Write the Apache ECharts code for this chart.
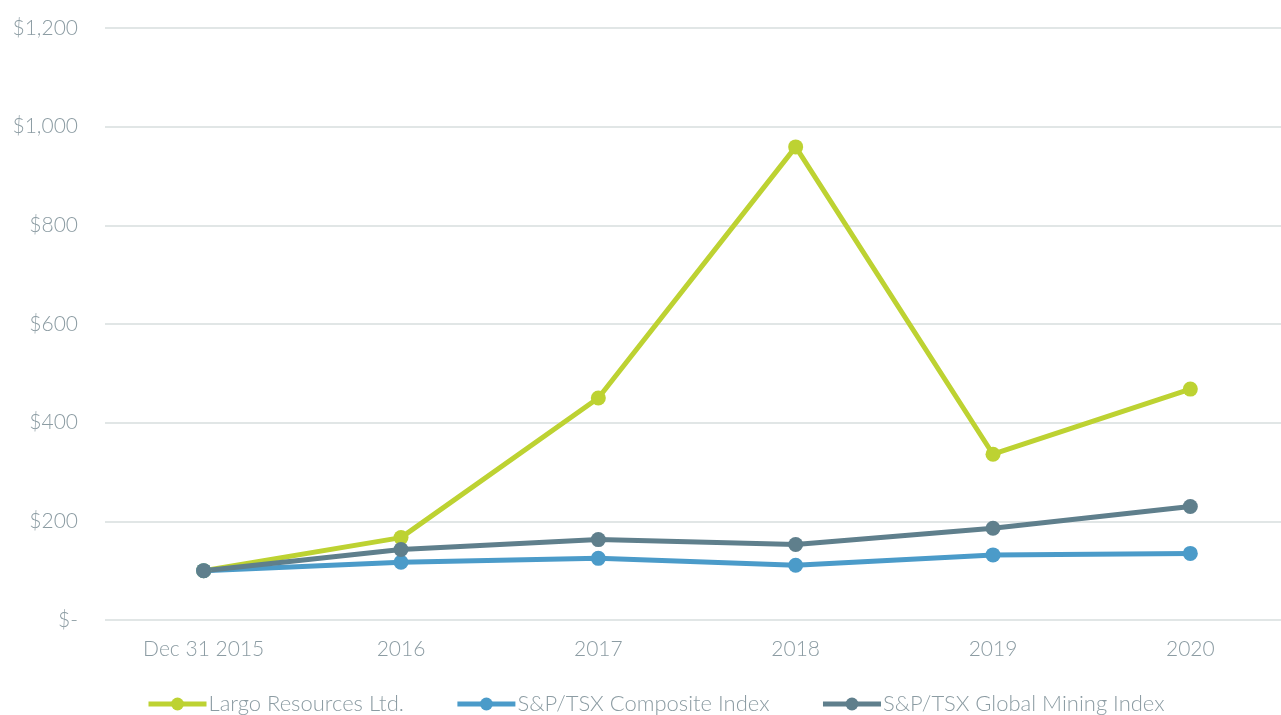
<!DOCTYPE html>
<html>
<head>
<meta charset="utf-8">
<script src="https://cdn.jsdelivr.net/npm/echarts@6/dist/echarts.min.js"></script>
<style>
	html, body { margin: 0; padding: 0; background: #fff; overflow: hidden; }
	#main { width: 1289px; height: 715px; }
</style>
</head>
<body>
<div id="main"></div>
<script>
	// 图表数据
	var categories = ['Dec 31 2015', '2016', '2017', '2018', '2019', '2020'];
	var largo = [100, 167, 450, 959, 336, 468];
	var composite = [100, 117, 125, 111, 132, 135];
	var mining = [100, 143, 163, 153, 186, 230];
	var seriesNames = ['Largo Resources Ltd.', 'S&P/TSX Composite Index', 'S&P/TSX Global Mining Index'];
	var colors = ['#BDD232', '#4B9BC9', '#5F7F8C'];

	var labelColor = '#8C9CA3';
	var fontFamily = 'Lato, "Open Sans", sans-serif';

	function lineSeries(name, data, color) {
		return {
			name: name,
			type: 'line',
			data: data,
			symbol: 'circle',
			symbolSize: 15,
			lineStyle: { width: 5, color: color },
			itemStyle: { color: color }
		};
	}

	var myChart = echarts.init(document.getElementById('main'));
	var option = {
		animation: false,
		textStyle: { fontFamily: fontFamily },
		legend: {
			bottom: 0,
			left: 146,
			padding: 0,
			itemWidth: 58,
			itemHeight: 16,
			itemGap: 51,
			lineStyle: { width: 5 },
			textStyle: { color: labelColor, fontSize: 22, fontWeight: 300, fontFamily: fontFamily, padding: [0, 0, 0, -3] },
			data: seriesNames
		},
		grid: {
			left: 105,
			right: 0,
			top: 28,
			bottom: 95
		},
		xAxis: {
			type: 'category',
			data: categories,
			axisLine: { show: false },
			axisTick: { show: false },
			axisLabel: { color: labelColor, fontSize: 21, fontWeight: 300, margin: 19 }
		},
		yAxis: {
			type: 'value',
			min: 0,
			max: 1200,
			interval: 200,
			axisLabel: {
				color: labelColor,
				fontSize: 21,
				fontWeight: 300,
				margin: 27,
				formatter: function(v) {
					if (v === 0) return '$-';
					return '$' + v.toLocaleString('en-US');
				}
			},
			splitLine: { lineStyle: { color: '#E1E6E6', width: 2 } }
		},
		series: [
			lineSeries(seriesNames[0], largo, colors[0]),
			lineSeries(seriesNames[1], composite, colors[1]),
			lineSeries(seriesNames[2], mining, colors[2])
		]
	};
	myChart.setOption(option);
</script>
</body>
</html>
